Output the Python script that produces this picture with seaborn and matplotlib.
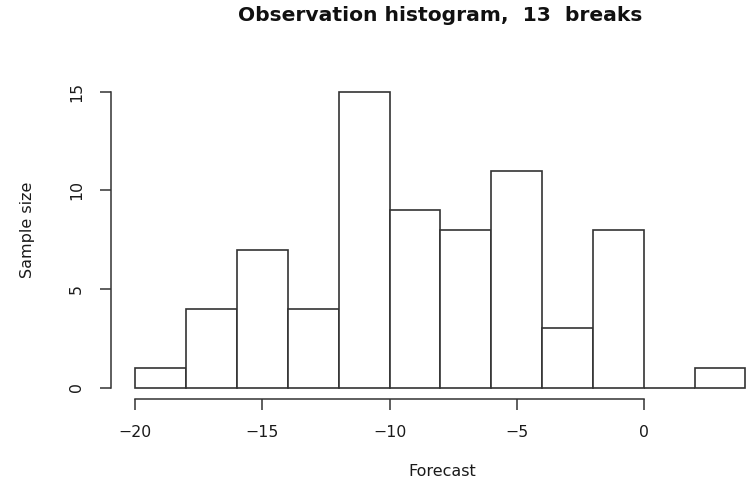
import matplotlib
matplotlib.use("Agg")
import matplotlib.pyplot as plt
import seaborn as sns

# Histogram of forecast observations: 13 break points, width 2
breaks = [-20, -18, -16, -14, -12, -10, -8, -6, -4, -2, 0, 2, 4]
counts = [1, 4, 7, 4, 15, 9, 8, 11, 3, 8, 0, 1]
x_ticks = [-20, -15, -10, -5, 0]
y_ticks = [0, 5, 10, 15]

mids = [(a + b) / 2 for a, b in zip(breaks[:-1], breaks[1:])]

sns.set_theme(style="white")
plt.rcParams["font.family"] = ["DejaVu Sans"]

fig = plt.figure(figsize=(7.47, 4.80), dpi=100)
ax = fig.add_axes([0.1486, 0.168, 0.882, 0.6654])

line_col = "#333333"
text_col = "#1a1a1a"
sns.histplot(x=mids, weights=counts, bins=breaks, stat="count",
             color="white", edgecolor=line_col, linewidth=1.2, alpha=1,
             ax=ax)

# base-R style limits: 4% padding on each side
span = breaks[-1] - breaks[0]
ax.set_xlim(breaks[0] - 0.04 * span, breaks[-1] + 0.04 * span)
ymax = max(counts)
ax.set_ylim(-0.04 * ymax, ymax * 1.04)

for s in ["top", "right"]:
    ax.spines[s].set_visible(False)
for s in ["left", "bottom"]:
    ax.spines[s].set_color(line_col)
    ax.spines[s].set_linewidth(1.1)
ax.spines["bottom"].set_bounds(x_ticks[0], x_ticks[-1])
ax.spines["left"].set_bounds(y_ticks[0], y_ticks[-1])

ax.set_xticks(x_ticks)
ax.set_xticklabels(["\u2212" + str(abs(v)) if v < 0 else str(v) for v in x_ticks])
ax.set_yticks(y_ticks)
ax.set_yticklabels([str(v) for v in y_ticks], rotation=90, va="center")
ax.tick_params(axis="both", which="major", direction="out", length=8,
               width=1.1, color=line_col, labelsize=11.3, labelcolor=text_col,
               bottom=True, left=True)
ax.tick_params(axis="x", pad=10.5)
ax.tick_params(axis="y", pad=11.5)

ax.set_xlabel("Forecast", fontsize=11.5, color=text_col, va="center")
ax.xaxis.set_label_coords(0.503, -0.2245)
ax.set_ylabel("Sample size", fontsize=11.5, color=text_col, va="center")
ax.yaxis.set_label_coords(-0.126, 0.530)
ax.grid(False)

fig.text(0.589, 0.968, "Observation histogram,  13  breaks",
         ha="center", va="center", fontsize=14.6, fontweight="bold",
         color="#111111")

fig.savefig("out.png", dpi=100)
